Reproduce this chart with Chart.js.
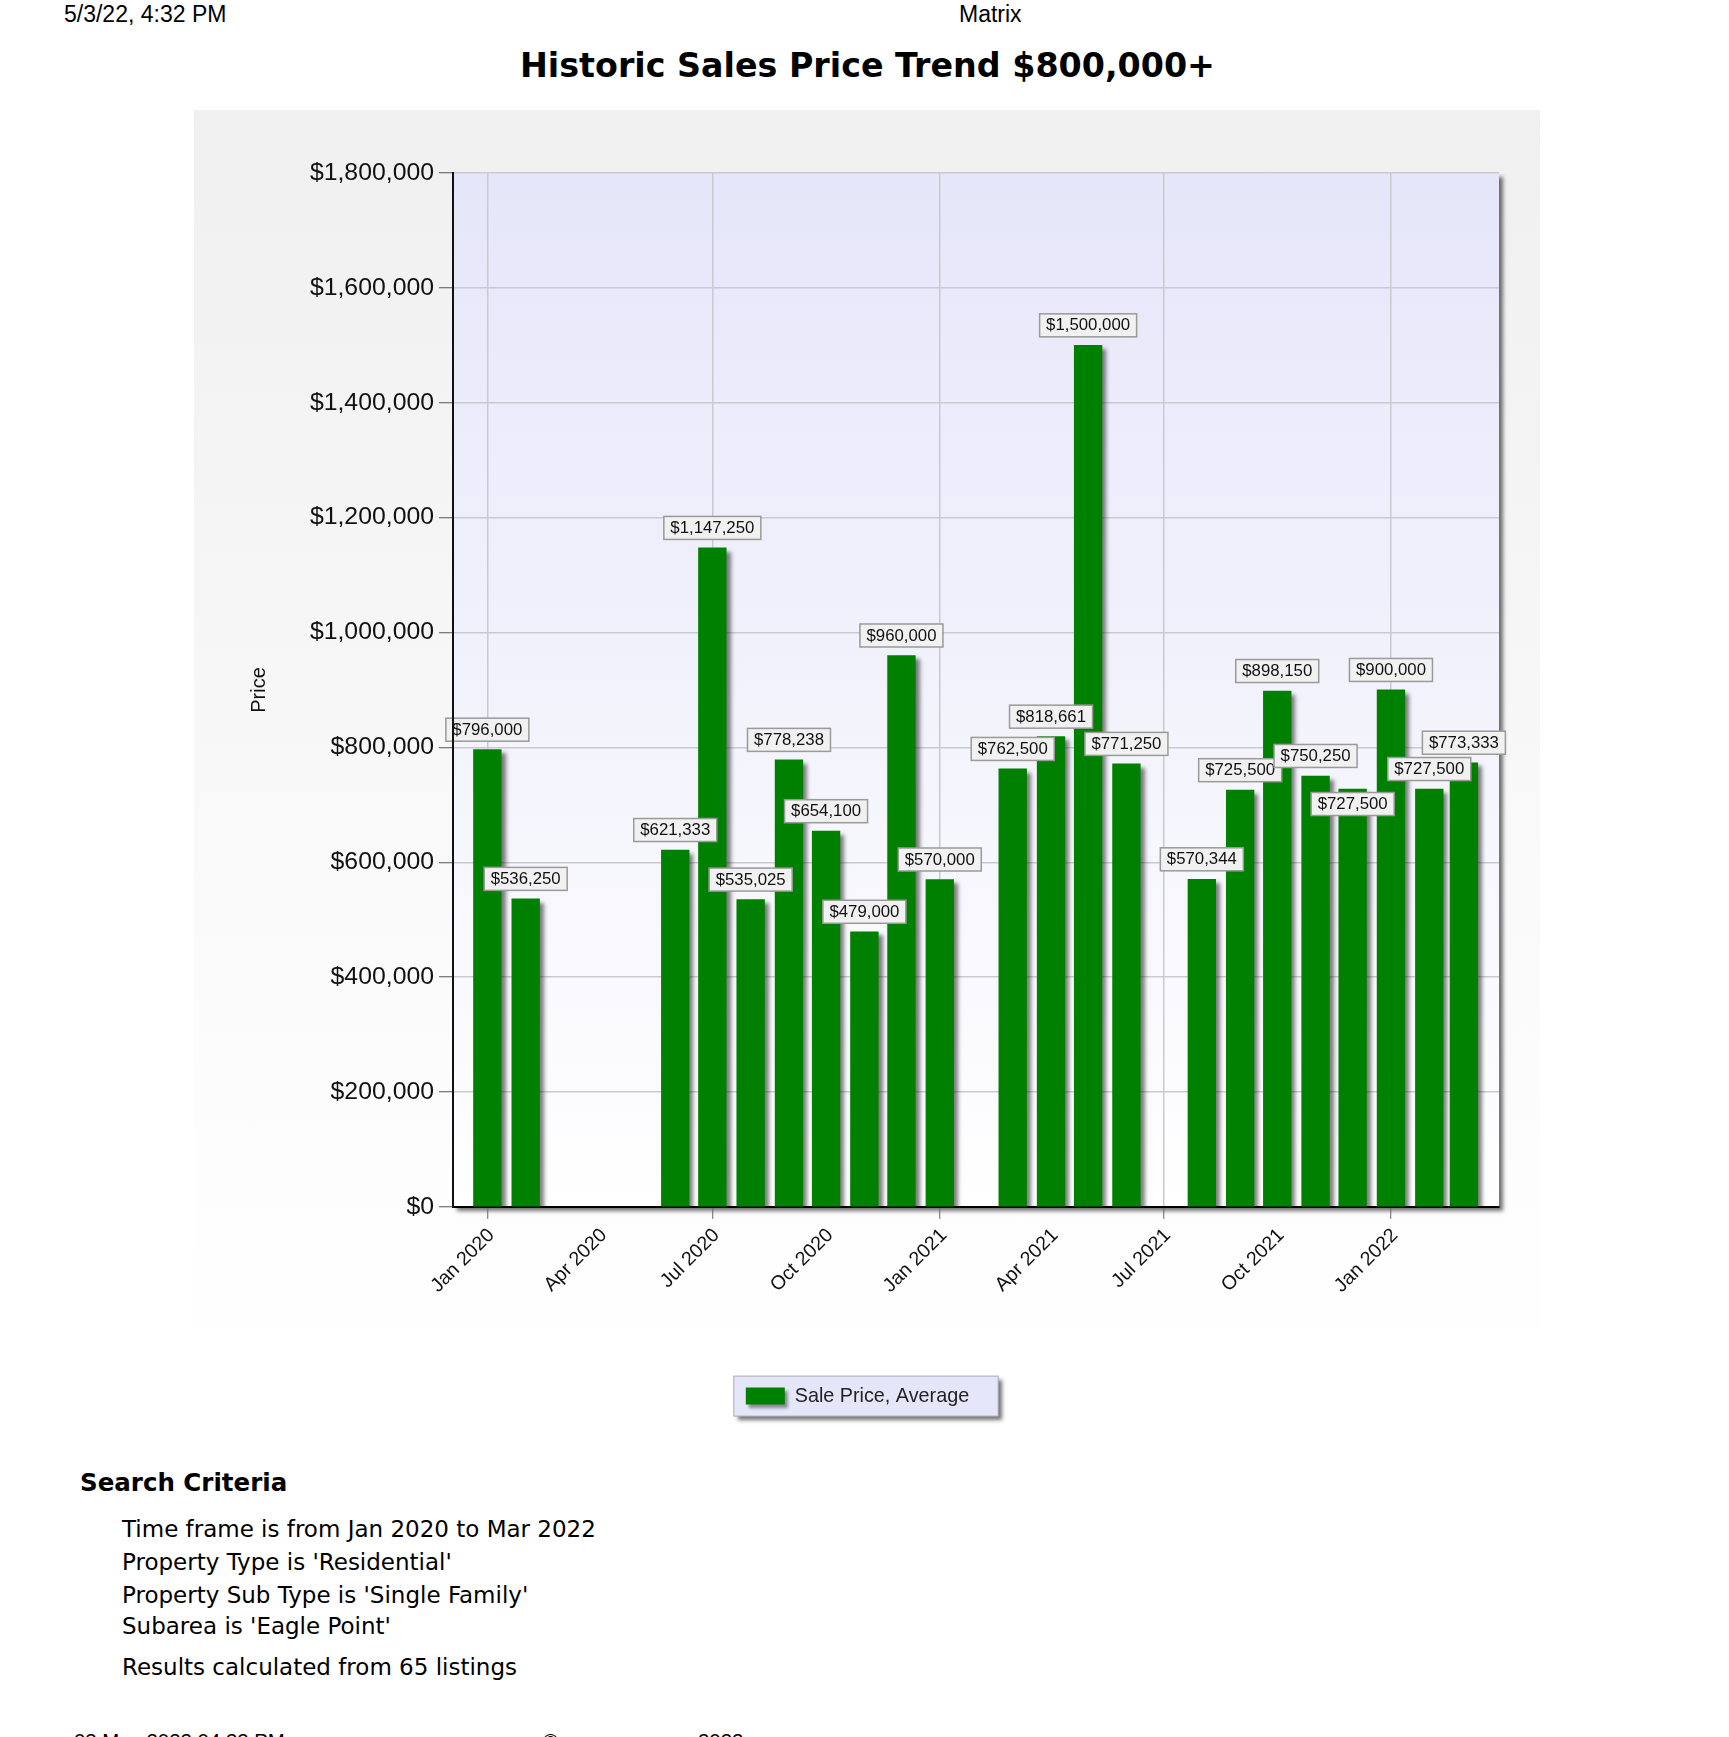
<!DOCTYPE html>
<html>
<head>
<meta charset="utf-8">
<title>Historic Sales Price Trend</title>
<script src="https://cdn.jsdelivr.net/npm/chart.js@4"></script>
<style>
  html, body { margin: 0; padding: 0; background: #fff; width: 1729px; height: 1737px; overflow: hidden; }
  .t { position: absolute; white-space: nowrap; color: #000; line-height: 30px; font-family: "DejaVu Sans", sans-serif; }
  .arial { font-family: "Liberation Sans", Arial, sans-serif; }
  #panel { position: absolute; left: 194px; top: 110px; width: 1346px; height: 1220px; background: linear-gradient(#f0f0f0, #f5f5f5 35%, #fdfdfd 85%, #fefefe); }
  #chart { position: absolute; left: 194px; top: 111px; }
</style>
</head>
<body>
<div class="t arial" style="left:64px;top:-1px;font-size:23px">5/3/22, 4:32 PM</div>
<div class="t arial" style="left:959px;top:-1px;font-size:23px">Matrix</div>
<div class="t" style="left:520px;top:51px;font-size:33.3px;font-weight:bold">Historic Sales Price Trend $800,000+</div>
<div id="panel"></div>
<canvas id="chart" width="1346" height="1325"></canvas>
<div class="t" style="left:80px;top:1468px;font-size:24.5px;font-weight:bold">Search Criteria</div>
<div class="t" style="left:122px;top:1514px;font-size:23px">Time frame is from Jan 2020 to Mar 2022</div>
<div class="t" style="left:122px;top:1547px;font-size:23px">Property Type is 'Residential'</div>
<div class="t" style="left:122px;top:1580px;font-size:23px">Property Sub Type is 'Single Family'</div>
<div class="t" style="left:122px;top:1611px;font-size:23px">Subarea is 'Eagle Point'</div>
<div class="t" style="left:122px;top:1652px;font-size:23px">Results calculated from 65 listings</div>
<div class="t arial" style="left:74px;top:1726px;font-size:20.4px">03 May 2022 04:32 PM</div>
<div class="t arial" style="left:543px;top:1726px;font-size:20.4px">©</div>
<div class="t arial" style="left:698px;top:1726px;font-size:20.4px">2022</div>

<script>
const months = [
  '2020-01-01', '2020-02-01', '2020-03-01', '2020-04-01', '2020-05-01', '2020-06-01',
  '2020-07-01', '2020-08-01', '2020-09-01', '2020-10-01', '2020-11-01', '2020-12-01',
  '2021-01-01', '2021-02-01', '2021-03-01', '2021-04-01', '2021-05-01', '2021-06-01',
  '2021-07-01', '2021-08-01', '2021-09-01', '2021-10-01', '2021-11-01', '2021-12-01',
  '2022-01-01', '2022-02-01', '2022-03-01'
];
const salePrice = [
  796000, 536250, null, null, null, 621333,
  1147250, 535025, 778238, 654100, 479000, 960000,
  570000, null, 762500, 818661, 1500000, 771250,
  null, 570344, 725500, 898150, 750250, 727500,
  900000, 727500, 773333
];
const tickMonths = ['2020-01-01', '2020-04-01', '2020-07-01', '2020-10-01', '2021-01-01', '2021-04-01', '2021-07-01', '2021-10-01', '2022-01-01'];
const tickLabels = ['Jan 2020', 'Apr 2020', 'Jul 2020', 'Oct 2020', 'Jan 2021', 'Apr 2021', 'Jul 2021', 'Oct 2021', 'Jan 2022'];
const seriesName = 'Sale Price, Average';

const toDay = iso => Date.parse(iso + 'T00:00:00Z') / 86400000;
const money = v => '$' + v.toLocaleString('en-US');
const FONT = '"Liberation Sans", Arial, sans-serif';
const GRID = '#c9c9d2';

// the page's time axis starts a little before Jan 2020 and ends a little after Mar 2022
const axisMin = toDay('2020-01-01') - 27.8;
const axisMax = toDay('2022-01-01') + 87.4;

// plot background and legend frame go under everything
const backdrop = {
  id: 'backdrop',
  beforeDraw(chart) {
    const { ctx, chartArea: a } = chart;
    ctx.save();
    ctx.shadowColor = 'rgba(0,0,0,0.55)';
    ctx.shadowOffsetX = 4;
    ctx.shadowOffsetY = 4;
    ctx.shadowBlur = 4;
    const g = ctx.createLinearGradient(0, a.top, 0, a.bottom);
    g.addColorStop(0, '#e6e6fa');
    g.addColorStop(1, '#ffffff');
    ctx.fillStyle = g;
    ctx.fillRect(a.left, a.top, a.width, a.height);

    const hit = chart.legend.legendHitBoxes[0];
    const fx = hit.left - 12, fy = hit.top + hit.height / 2 - 20;
    ctx.fillStyle = '#e6e6fa';
    ctx.fillRect(fx, fy, hit.width + 41, 40);
    ctx.shadowColor = 'transparent';
    ctx.strokeStyle = '#a9a9b4';
    ctx.lineWidth = 1;
    ctx.strokeRect(fx, fy, hit.width + 41, 40);

    // swatch shadow
    ctx.fillStyle = 'rgba(0,0,0,0.4)';
    ctx.filter = 'blur(1.5px)';
    ctx.fillRect(hit.left + 3, hit.top + hit.height / 2 - 5, 39, 17);
    ctx.restore();
  }
};

const barShadow = {
  id: 'barShadow',
  beforeDatasetsDraw(chart) {
    const { ctx } = chart;
    ctx.save();
    ctx.shadowColor = 'rgba(0,0,0,0.5)';
    ctx.shadowOffsetX = 4;
    ctx.shadowOffsetY = 4;
    ctx.shadowBlur = 4;
  },
  afterDatasetsDraw(chart) {
    chart.ctx.restore();
  }
};

// value tags above the bars; Dec 2021 is pushed down by the tag collision in the original
const tagShift = { 23: 35 };
const valueTags = {
  id: 'valueTags',
  afterDatasetsDraw(chart) {
    const { ctx } = chart;
    const bars = chart.getDatasetMeta(0).data;
    ctx.save();
    ctx.font = '16.8px ' + FONT;
    ctx.textAlign = 'center';
    ctx.textBaseline = 'middle';
    salePrice.forEach((v, i) => {
      if (v === null) return;
      const text = money(v);
      const w = ctx.measureText(text).width + 13;
      const h = 23;
      const x = bars[i].x;
      const y = bars[i].y - 20 + (tagShift[i] || 0);
      ctx.fillStyle = '#f1f1f1';
      ctx.strokeStyle = '#9a9a9a';
      ctx.lineWidth = 1.5;
      ctx.fillRect(x - w / 2, y - h / 2, w, h);
      ctx.strokeRect(x - w / 2, y - h / 2, w, h);
      ctx.fillStyle = '#111';
      ctx.fillText(text, x, y + 0.5);
    });
    ctx.restore();
  }
};

new Chart(document.getElementById('chart'), {
  type: 'bar',
  data: {
    datasets: [{
      label: seriesName,
      data: months.map((m, i) => ({ x: toDay(m), y: salePrice[i] })),
      backgroundColor: '#008000',
      borderWidth: 0,
      barThickness: 27.7
    }]
  },
  plugins: [backdrop, barShadow, valueTags],
  options: {
    responsive: false,
    animation: false,
    layout: { padding: { top: 62, right: 41, left: 22, bottom: 20 } },
    plugins: {
      tooltip: { enabled: false },
      title: { display: false },
      legend: {
        position: 'bottom',
        labels: {
          boxWidth: 39,
          boxHeight: 17,
          padding: 10,
          color: '#222',
          font: { family: FONT, size: 19.8 }
        }
      }
    },
    scales: {
      x: {
        type: 'linear',
        offset: false,
        min: axisMin,
        max: axisMax,
        afterBuildTicks: scale => {
          scale.ticks = tickMonths.map(m => ({ value: toDay(m) }));
        },
        afterFit: scale => { scale.height = 169.3; },
        border: { color: '#000', width: 2 },
        grid: {
          offset: false,
          color: c => (c.index % 2 === 0 ? GRID : 'transparent'),
          tickColor: c => (c.index % 2 === 0 ? '#666' : 'transparent'),
          lineWidth: 1.5,
          tickWidth: 1,
          tickLength: 12
        },
        ticks: {
          autoSkip: false,
          minRotation: 45,
          maxRotation: 45,
          padding: 5,
          labelOffset: 4,
          color: '#111',
          font: { family: FONT, size: 19.6 },
          callback: value => tickLabels[tickMonths.findIndex(m => toDay(m) === value)]
        }
      },
      y: {
        min: 0,
        max: 1800000,
        afterFit: scale => { scale.width = 237; },
        border: { color: '#111', width: 2, z: 1 },
        grid: {
          color: GRID,
          tickColor: '#555',
          lineWidth: 1.5,
          tickWidth: 1,
          tickLength: 14
        },
        ticks: {
          stepSize: 200000,
          padding: 5,
          color: '#111',
          font: { family: FONT, size: 24.8 },
          callback: value => money(value)
        },
        title: {
          display: true,
          text: 'Price',
          color: '#111',
          font: { family: FONT, size: 20 },
          padding: { top: 31, bottom: 0 }
        }
      }
    }
  }
});
</script>
</body>
</html>
